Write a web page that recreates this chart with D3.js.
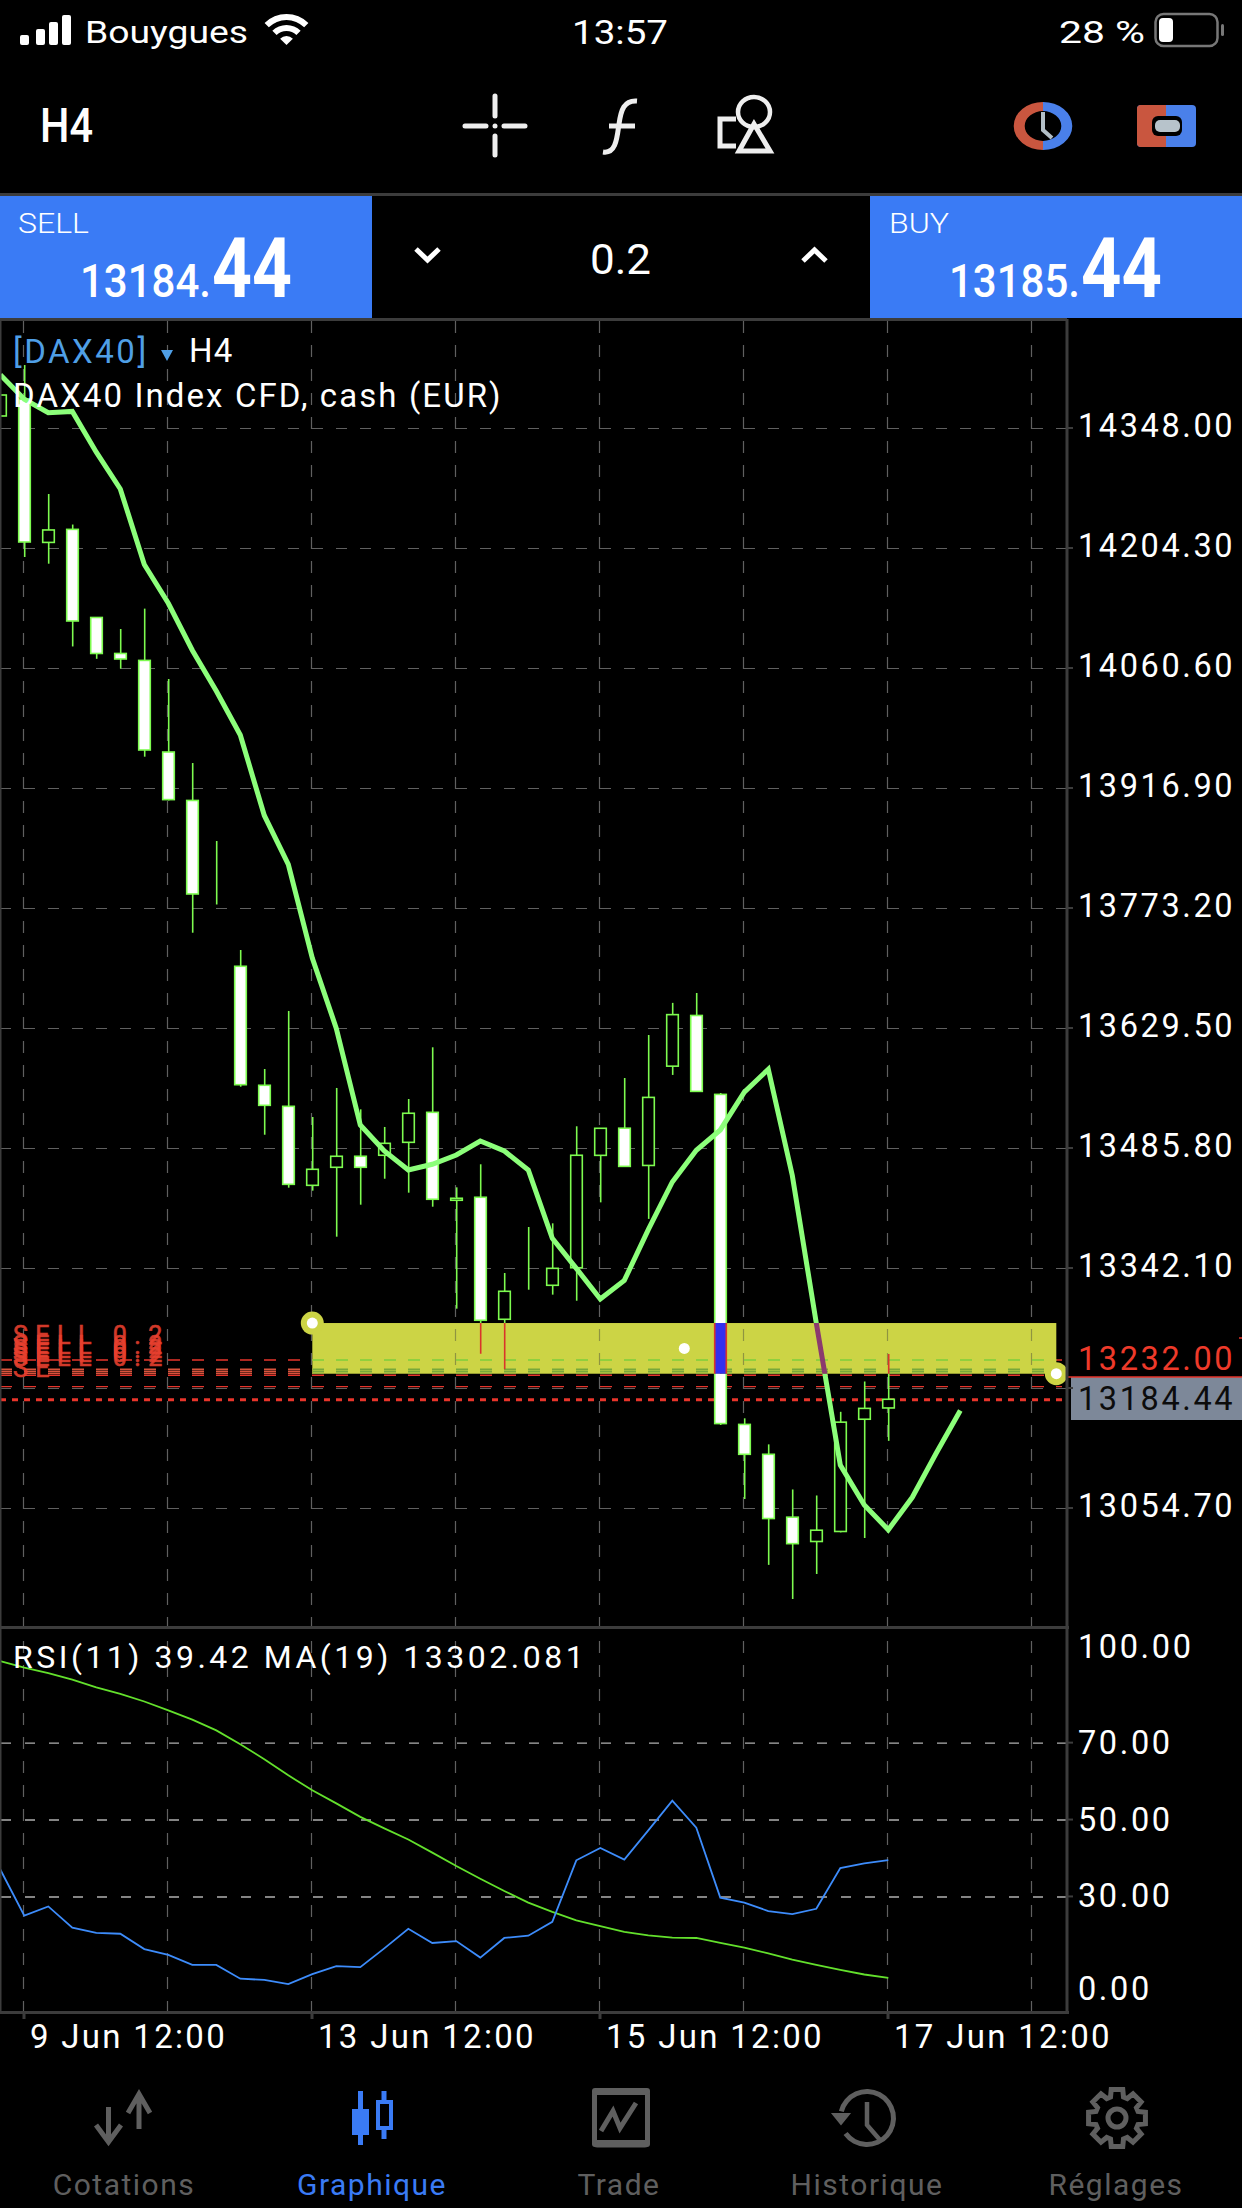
<!DOCTYPE html>
<html>
<head>
<meta charset="utf-8">
<title>DAX40 H4</title>
<script src="https://cdn.jsdelivr.net/npm/d3@7"></script>
<style>
html, body { margin: 0; padding: 0; background: #000; }
svg { display: block; }
text { font-family: Roboto, "Liberation Sans", sans-serif; }
</style>
</head>
<body>
<svg id="chart" width="1242" height="2208"></svg>
<script>
// Candles, oldest first. White bodies are down bars, hollow ones up bars.
var opens = [14362.4, 14382.7, 14211, 14226.6, 14121.1, 14078, 14069.7, 13960, 13902, 13787.2,
    13703.4, 13560.9, 13535.7, 13441.1, 13462.7, 13475.9, 13477.1, 13492.6, 13528.5, 13423.2,
    13426.8, 13280.7, 13321.4, 13321.4, 13342.4, 13477, 13509.5, 13464.9, 13583.8, 13644.5,
    13550, 13154.8, 13119, 13043.7, 13014.6, 13026.6, 13161, 13174.5];
var highs = [14387.5, 14423.4, 14269, 14232.4, 14121.1, 14107.3, 14131.7, 14047.4, 13946.8, 13853.4,
    13722.9, 13580.4, 13649.9, 13522.9, 13557.7, 13532.1, 13511, 13544.5, 13606.4, 13438.7,
    13466.3, 13336.1, 13391.2, 13395.6, 13511.8, 13509.4, 13569.6, 13621.1, 13659.6, 13671.4,
    13551.7, 13162.1, 13130.9, 13076.9, 13069.7, 13169.9, 13206.2, 13239.1];
var lows = [14362.4, 14193.5, 14185.5, 14086.4, 14071.6, 14059.9, 13954.4, 13902, 13743.6, 13777.4,
    13559.2, 13501.7, 13438.3, 13434.7, 13379.6, 13417.9, 13449, 13432.3, 13415.5, 13293.4,
    13239.5, 13220.8, 13316.1, 13310.2, 13302.9, 13420.7, 13463.8, 13400.9, 13573.3, 13553.6,
    13154.2, 13065.5, 12986.6, 12945.7, 12975.7, 13025.5, 13018.8, 13135.1];
var closes = [14387.5, 14211.5, 14225.9, 14116.9, 14078, 14071.4, 13962.4, 13903, 13790, 13787.2,
    13561.6, 13536.9, 13442.3, 13460.3, 13475.9, 13462.7, 13491.4, 13527.4, 13424.4, 13425.6,
    13279.5, 13314.2, 13321.4, 13341.7, 13477.1, 13509.4, 13463.8, 13546.4, 13645.5, 13553.6,
    13155.8, 13119, 13042.1, 13012, 13028.1, 13157.5, 13174, 13184.9];
// Price moving average, shifted three bars into the future
var priceMA = [14411.8, 14382.5, 14366.3, 14367.9, 14319, 14275, 14184.5, 14138.1, 14081.9, 14033.1,
    13980.4, 13884, 13825.3, 13713.3, 13629.1, 13513.3, 13482.2, 13459.5, 13466.3, 13477.4,
    13494.2, 13482.2, 13459.5, 13377.7, 13341.7, 13305, 13327.2, 13388, 13445.1, 13483.1,
    13507.4, 13552.6, 13580.1, 13452.9, 13276.2, 13106.2, 13058.3, 13028.6, 13067.5, 13120.6, 13171.5];
var rsiValues = [37, 25, 27.4, 21.9, 20.5, 20.3, 16.3, 14.8, 12.2, 12.2,
    8.6, 8.3, 7.2, 9.8, 11.9, 11.6, 16.5, 21.6, 17.9, 18.4,
    14.1, 19.2, 19.8, 23.4, 39.4, 42.6, 39.6, 47.2, 54.9, 47.9,
    29.7, 28.4, 26.2, 25.4, 26.8, 37.4, 38.6, 39.42];
var rsiMA = [91.2, 89.5, 88.1, 86.4, 84.4, 82.7, 80.7, 78.4, 76, 73.2,
    69.6, 65.7, 61.5, 57.6, 54.2, 50.7, 47.7, 44.8, 41.4, 37.9,
    34.6, 31.4, 28.4, 26, 23.8, 22.3, 20.8, 19.9, 19.3, 19.2,
    17.9, 16.7, 15.2, 13.6, 12.2, 10.9, 9.7, 8.8];

var priceTicks = [14348, 14204.3, 14060.6, 13916.9, 13773.2, 13629.5, 13485.8, 13342.1, 13198.4, 13054.7];
var rsiTicks = [70, 50, 30];
var rsiLabels = [100, 70, 50, 30, 0];
var gridBars = [1, 7, 13, 19, 25, 31, 37, 43];
var timeBars = [1, 13, 25, 37];
var timeLabels = ['9 Jun 12:00', '13 Jun 12:00', '15 Jun 12:00', '17 Jun 12:00'];
var orderLevels = [13232, 13220.8, 13218.4, 13216, 13213.6, 13200];
var orderTexts = ['SELL 0.2', 'SELL 0.2', 'SELL 0.2', 'SELL 0.2', 'SELL 0.2', 'SE'];
var orderBaselines = [13251, 13239.1, 13234.3, 13229.5, 13225.1, 13212];
var bid = 13184.44;
var band = {x0: 13, x1: 44, top: 13276.2, bottom: 13215.5};

var svg = d3.select('#chart');
var chartRight = 1067;
var chartTop = 319, panelTop = 1627, panelBottom = 2012;
var green = '#7dfb4f', maGreen = '#8cff7a', orderRed = '#e5342b', gridGrey = '#606060';
var labelSize = 32.5, labelSpacing = 2.6;

svg.append('rect').attr('width', 1242).attr('height', 2208).attr('fill', '#000');

var x = d3.scaleLinear().domain([0, 44]).range([0.3, 1056.3]);
var y = d3.scaleLinear().domain([14348, 13054.7]).range([428, 1508]);
var yRsi = d3.scaleLinear().domain([0, 100]).range([2011.8, 1627.3]);

var defs = svg.append('defs');
defs.append('clipPath').attr('id', 'plot').append('rect')
    .attr('x', 0).attr('y', chartTop + 2).attr('width', chartRight).attr('height', panelTop - chartTop - 2);
defs.append('clipPath').attr('id', 'bandClip').append('rect')
    .attr('x', x(band.x0)).attr('y', y(band.top))
    .attr('width', x(band.x1) - x(band.x0)).attr('height', y(band.bottom) - y(band.top));

// Vertical grid runs through both panels
function drawVerticalGrid(g, colour) {
    g.selectAll('.vgrid').data(gridBars).enter().append('line')
        .attr('class', 'vgrid')
        .attr('x1', function(d) { return x(d) - 0.8; })
        .attr('x2', function(d) { return x(d) - 0.8; })
        .attr('y1', chartTop + 2).attr('y2', panelBottom)
        .attr('stroke', colour).attr('stroke-width', 1.2).attr('stroke-dasharray', '12 12');
}
drawVerticalGrid(svg.append('g'), gridGrey);

// Price axis: long ticks are the horizontal grid
var priceAxis = d3.axisRight(y).tickValues(priceTicks).tickSize(-chartRight).tickPadding(11)
    .tickFormat(function(d) { return d === 13198.4 ? '' : d.toFixed(2); });
var priceG = svg.append('g').attr('transform', 'translate(' + chartRight + ',0)').call(priceAxis);
priceG.select('.domain').remove();
priceG.selectAll('line').attr('stroke', gridGrey).attr('stroke-width', 1.2).attr('stroke-dasharray', '11 13');
priceG.selectAll('text').attr('fill', '#fff').attr('font-size', labelSize).attr('dy', '0.27em')
    .attr('letter-spacing', labelSpacing).style('font-family', 'Roboto, sans-serif');

function drawMarks(g, c) {
    // pending order lines sit under the candles
    g.selectAll('.order').data(orderLevels).enter().append('line')
        .attr('class', 'order')
        .attr('x1', 0).attr('x2', 1062)
        .attr('y1', function(d) { return y(d); })
        .attr('y2', function(d) { return y(d); })
        .attr('stroke', function(d, i) { return i >= 1 && i <= 3 ? c.stripe : c.order; })
        .attr('stroke-width', 1.4).attr('stroke-dasharray', '12 12');

    // candles
    var bars = g.selectAll('.bar').data(opens).enter().append('g').attr('class', 'bar');
    bars.append('line')
        .attr('x1', function(d, i) { return x(i) + 0.4; })
        .attr('x2', function(d, i) { return x(i) + 0.4; })
        .attr('y1', function(d, i) { return y(highs[i]); })
        .attr('y2', function(d, i) { return y(lows[i]); })
        .attr('stroke', c.wick).attr('stroke-width', 1.6);
    bars.append('rect')
        .attr('x', function(d, i) { return x(i) - 5.6; })
        .attr('width', 11.6)
        .attr('y', function(d, i) { return y(Math.max(opens[i], closes[i])); })
        .attr('height', function(d, i) { return Math.abs(y(opens[i]) - y(closes[i])); })
        .attr('fill', function(d, i) { return closes[i] < opens[i] ? c.down : '#000'; })
        .attr('stroke', c.edge).attr('stroke-width', 1.6);

    // moving average
    g.append('path')
        .attr('d', d3.line().x(function(d, i) { return x(i); }).y(function(d) { return y(d); })(priceMA))
        .attr('fill', 'none').attr('stroke', c.ma).attr('stroke-width', 5).attr('stroke-linejoin', 'miter');
}

var plot = svg.append('g').attr('clip-path', 'url(#plot)');

// Bid line, also under the candles
plot.append('line').attr('x1', 0).attr('x2', 1062).attr('y1', y(bid)).attr('y2', y(bid))
    .attr('stroke', '#e8352b').attr('stroke-width', 3).attr('stroke-dasharray', '6 6');

drawMarks(plot.append('g'), {wick: green, edge: green, down: '#fff', ma: maGreen, order: orderRed, stripe: '#d9533c'});

// Rectangle object, everything under it shows in inverted colours
var bandFill = '#ccd445';
svg.append('rect')
    .attr('x', x(band.x0)).attr('y', y(band.top))
    .attr('width', x(band.x1) - x(band.x0)).attr('height', y(band.bottom) - y(band.top))
    .attr('fill', bandFill);
var inBand = svg.append('g').attr('clip-path', 'url(#bandClip)');
drawVerticalGrid(inBand, '#8f9440');
drawMarks(inBand.append('g'), {wick: '#d9342b', edge: '#d9342b', down: '#3230ee', ma: '#8b3a6e', order: '#7cce3c', stripe: '#77a83a'});
inBand.selectAll('.bar rect').filter(function(d, i) { return closes[i] >= opens[i]; }).attr('fill', 'none');

var handles = [[band.x0, band.top], [band.x1, band.bottom]];
svg.selectAll('.handle').data(handles).enter().append('circle').attr('class', 'handle')
    .attr('cx', function(d) { return x(d[0]); }).attr('cy', function(d) { return y(d[1]); })
    .attr('r', 11.5).attr('fill', bandFill);
svg.selectAll('.handleDot').data(handles.concat([[(band.x0 + band.x1) / 2, (band.top + band.bottom) / 2]]))
    .enter().append('circle').attr('class', 'handleDot')
    .attr('cx', function(d) { return x(d[0]); }).attr('cy', function(d) { return y(d[1]); })
    .attr('r', 5.5).attr('fill', '#fff');

// Order labels, stacked on top of each other
svg.selectAll('.orderText').data(orderTexts).enter().append('text').attr('class', 'orderText')
    .attr('x', 13).attr('y', function(d, i) { return y(orderBaselines[i]); })
    .attr('font-size', 25).attr('letter-spacing', 7.5)
    .attr('fill', '#e8402f').attr('stroke', '#e8402f').attr('stroke-width', 0.6).attr('opacity', 0.9)
    .text(function(d) { return d; });

// Titles
svg.append('text').attr('x', 13).attr('y', 363).attr('font-size', 33).attr('fill', '#4f9fe6').attr('letter-spacing', 2.5).text('[DAX40]');
svg.append('path').attr('d', 'M161 350 L173 350 L167 361 Z').attr('fill', '#4f9fe6');
svg.append('text').attr('x', 189).attr('y', 362).attr('font-size', 33).attr('fill', '#fff').attr('letter-spacing', 1.2).text('H4');
svg.append('text').attr('x', 13).attr('y', 407).attr('font-size', 33).attr('fill', '#fff').attr('letter-spacing', 2.1).text('DAX40 Index CFD, cash (EUR)');

// Last price and order price on the axis
svg.append('rect').attr('x', 1071).attr('y', 1377).attr('width', 171).attr('height', 43).attr('fill', '#7d8899');
svg.append('line').attr('x1', 1067).attr('x2', 1242).attr('y1', 1377).attr('y2', 1377).attr('stroke', orderRed).attr('stroke-width', 1.5);
svg.append('line').attr('x1', 1239).attr('x2', 1242).attr('y1', 1338).attr('y2', 1338).attr('stroke', orderRed).attr('stroke-width', 1.5);
svg.append('text').attr('x', 1078).attr('y', y(orderLevels[0]) + 10).attr('font-size', labelSize)
    .attr('letter-spacing', labelSpacing).attr('fill', '#ee3a2a').text(orderLevels[0].toFixed(2));
svg.append('text').attr('x', 1078).attr('y', 1410).attr('font-size', labelSize)
    .attr('letter-spacing', labelSpacing).attr('fill', '#0c0c0c').text(bid.toFixed(2));

// RSI panel
var rsiAxis = d3.axisRight(yRsi).tickValues(rsiTicks).tickSize(-chartRight).tickFormat('');
var rsiG = svg.append('g').attr('transform', 'translate(' + chartRight + ',0)').call(rsiAxis);
rsiG.select('.domain').remove();
rsiG.selectAll('line').attr('stroke', '#b0b0b0').attr('stroke-width', 1.4).attr('stroke-dasharray', '10 14');

var rsiLine = d3.line().x(function(d, i) { return x(i); }).y(function(d) { return yRsi(d); });
svg.append('path').attr('d', rsiLine(rsiMA)).attr('fill', 'none').attr('stroke', '#63e02c').attr('stroke-width', 1.8);
svg.append('path').attr('d', rsiLine(rsiValues)).attr('fill', 'none').attr('stroke', '#3d8cfb').attr('stroke-width', 1.8);

svg.selectAll('.rsiLabel').data(rsiLabels).enter().append('text').attr('class', 'rsiLabel')
    .attr('x', 1078)
    .attr('y', function(d) { return yRsi(d) + (d === 100 ? 31 : d === 0 ? -12 : 11); })
    .attr('font-size', labelSize).attr('letter-spacing', labelSpacing).attr('fill', '#fff')
    .text(function(d) { return d.toFixed(2); });
svg.append('text').attr('x', 13).attr('y', 1668).attr('font-size', 32)
    .attr('letter-spacing', 3.5).attr('fill', '#fff').text('RSI(11) 39.42 MA(19) 13302.081');

// Frame lines
var frame = '#3c3c3c';
svg.append('rect').attr('x', 0).attr('y', 193).attr('width', 1242).attr('height', 3).attr('fill', frame);
svg.append('rect').attr('x', 0).attr('y', chartTop - 1).attr('width', chartRight).attr('height', 3).attr('fill', frame);
svg.append('rect').attr('x', 0).attr('y', panelTop - 1).attr('width', chartRight + 2).attr('height', 3).attr('fill', frame);
svg.append('rect').attr('x', 0).attr('y', panelBottom - 1).attr('width', chartRight + 2).attr('height', 3).attr('fill', frame);
svg.append('rect').attr('x', 0).attr('y', chartTop).attr('width', 1.5).attr('height', panelBottom - chartTop).attr('fill', frame);
svg.append('rect').attr('x', chartRight - 1.5).attr('y', chartTop).attr('width', 3).attr('height', panelBottom - chartTop + 1).attr('fill', frame);

// Short solid ticks on the value axes
svg.selectAll('.yTick').data(priceTicks.map(y).concat(rsiTicks.map(yRsi))).enter().append('line').attr('class', 'yTick')
    .attr('x1', chartRight).attr('x2', chartRight + 6)
    .attr('y1', function(d) { return d; }).attr('y2', function(d) { return d; })
    .attr('stroke', frame).attr('stroke-width', 2);

// Time axis
var timeAxis = d3.axisBottom(d3.scaleLinear().domain(x.domain()).range([x(0) - 0.8, x(44) - 0.8]))
    .tickValues(timeBars).tickSize(7).tickPadding(0)
    .tickFormat(function(d, i) { return timeLabels[i]; });
var timeG = svg.append('g').attr('transform', 'translate(0,' + panelBottom + ')').call(timeAxis);
timeG.select('.domain').remove();
timeG.selectAll('line').attr('stroke', frame).attr('stroke-width', 3);
timeG.selectAll('text').attr('text-anchor', 'start').attr('dx', 6).attr('y', 36).attr('dy', 0)
    .attr('fill', '#fff').attr('font-size', 33).attr('letter-spacing', 2.3)
    .style('font-family', 'Roboto, sans-serif');

// ---- phone and app chrome ----
var ui = svg.append('g');

function label(txt, px, py, size, attrs) {
    var t = ui.append('text').attr('x', px).attr('y', py).attr('font-size', size).attr('fill', '#fff').text(txt);
    Object.keys(attrs || {}).forEach(function(k) { t.attr(k, attrs[k]); });
    return t;
}
function icon(d, colour, width) {
    return ui.append('path').attr('d', d).attr('fill', 'none').attr('stroke', colour).attr('stroke-width', width || 5);
}

// Status bar
[[20, 35], [36, 29], [49, 22], [62, 15]].forEach(function(b) {
    ui.append('rect').attr('x', b[0]).attr('y', b[1]).attr('width', 9).attr('height', 45 - b[1]).attr('rx', 2).attr('fill', '#fff');
});
label('Bouygues', 85, 43, 31, {textLength: 163, lengthAdjust: 'spacingAndGlyphs'});
[[0, 9], [14, 20], [25, 31]].forEach(function(r) {
    ui.append('path').attr('transform', 'translate(286.5,45)')
        .attr('d', d3.arc().innerRadius(r[0]).outerRadius(r[1]).startAngle(-Math.PI / 4).endAngle(Math.PI / 4)())
        .attr('fill', '#fff');
});
label('13:57', 572, 44, 34, {textLength: 96, lengthAdjust: 'spacingAndGlyphs'});
label('28 %', 1059, 43, 32, {textLength: 86, lengthAdjust: 'spacingAndGlyphs'});
ui.append('rect').attr('x', 1155.5).attr('y', 14).attr('width', 62).attr('height', 32).attr('rx', 8)
    .attr('fill', 'none').attr('stroke', '#777').attr('stroke-width', 2.5);
ui.append('rect').attr('x', 1159).attr('y', 18).attr('width', 14).attr('height', 24).attr('rx', 4).attr('fill', '#fff');
ui.append('rect').attr('x', 1221).attr('y', 24).attr('width', 3).attr('height', 12).attr('rx', 1.5).attr('fill', '#777');

// Toolbar
label('H4', 40, 142, 49, {'font-weight': 500, textLength: 53, lengthAdjust: 'spacingAndGlyphs'});
icon('M495 96V116M495 136V155M465 126H486M504 126H525', '#eee', 5).attr('stroke-linecap', 'round');
ui.append('circle').attr('cx', 495).attr('cy', 126).attr('r', 2.5).attr('fill', '#eee');
icon('M603 152C616 154 617 138 619 124C621 110 624 100 637 101M609 126H635', '#eee', 5);
ui.append('ellipse').attr('cx', 754).attr('cy', 112).attr('rx', 16).attr('ry', 15)
    .attr('fill', 'none').attr('stroke', '#eee').attr('stroke-width', 4.5);
icon('M754 124L739 151H770Z', '#eee', 5);
icon('M736 119H720V146H736', '#eee', 5);

var clock = ui.append('g').attr('transform', 'translate(1043,126) scale(1.22,1)');
clock.append('path').attr('d', d3.arc().innerRadius(15).outerRadius(24).startAngle(0).endAngle(Math.PI)()).attr('fill', '#4a80ea');
clock.append('path').attr('d', d3.arc().innerRadius(15).outerRadius(24).startAngle(Math.PI).endAngle(2 * Math.PI)()).attr('fill', '#c9563f');
icon('M1043 112V130L1052 138', '#b3bfc7', 4);
ui.append('rect').attr('x', 1137).attr('y', 105).attr('width', 59).attr('height', 42).attr('rx', 4).attr('fill', '#4a80ea');
ui.append('path').attr('d', 'M1166 105H1141Q1137 105 1137 109V143Q1137 147 1141 147H1166Z').attr('fill', '#c9563f');
ui.append('rect').attr('x', 1152).attr('y', 116).attr('width', 30).attr('height', 20).attr('rx', 6).attr('fill', '#000');
ui.append('rect').attr('x', 1155).attr('y', 120).attr('width', 25).attr('height', 12).attr('rx', 5).attr('fill', '#b7c3cb');

// Sell / volume / buy row
var blue = '#3a7bf5';
ui.append('rect').attr('x', 0).attr('y', 196).attr('width', 372).attr('height', 122).attr('fill', blue);
ui.append('rect').attr('x', 870).attr('y', 196).attr('width', 372).attr('height', 122).attr('fill', blue);
label('SELL', 18, 233, 28, {textLength: 71, lengthAdjust: 'spacingAndGlyphs', 'font-weight': 300});
label('13184.', 80, 297, 46, {textLength: 131, lengthAdjust: 'spacingAndGlyphs', 'font-weight': 500});
label('44', 212, 297, 84, {textLength: 80, lengthAdjust: 'spacingAndGlyphs', 'font-weight': 700});
label('BUY', 889, 233, 28, {textLength: 60, lengthAdjust: 'spacingAndGlyphs', 'font-weight': 300});
label('13185.', 949, 297, 46, {textLength: 131, lengthAdjust: 'spacingAndGlyphs', 'font-weight': 500});
label('44', 1081, 297, 84, {textLength: 81, lengthAdjust: 'spacingAndGlyphs', 'font-weight': 700});
label('0.2', 590, 274, 43, {textLength: 61, lengthAdjust: 'spacingAndGlyphs'});
icon('M416 249L427.5 260L439 249', '#fff', 5);
icon('M803 261L814.5 250L826 261', '#fff', 5);

// Tab bar
var tabGrey = '#5f5f5f', tabBlue = '#3a7bf5';
var tabs = [['Cotations', 124], ['Graphique', 372], ['Trade', 619], ['Historique', 867], ['Réglages', 1116]];
tabs.forEach(function(t, i) {
    label(t[0], t[1], 2195, 30, {'text-anchor': 'middle', fill: i === 1 ? tabBlue : tabGrey, 'letter-spacing': 1.5});
});
icon('M139 2129V2096M128 2113L139 2094L150 2113', tabGrey, 5);
icon('M108.5 2107V2140M96 2125L108.5 2142L121 2125', tabGrey, 5);
ui.append('rect').attr('x', 358).attr('y', 2091).attr('width', 5).attr('height', 54).attr('fill', tabBlue);
ui.append('rect').attr('x', 352).attr('y', 2109).attr('width', 17).attr('height', 26).attr('fill', tabBlue);
ui.append('rect').attr('x', 381.5).attr('y', 2091).attr('width', 5).attr('height', 48).attr('fill', tabBlue);
ui.append('rect').attr('x', 378).attr('y', 2102).attr('width', 13).attr('height', 26).attr('fill', '#000').attr('stroke', tabBlue).attr('stroke-width', 4);
ui.append('rect').attr('x', 594.5).attr('y', 2091).attr('width', 53).attr('height', 54).attr('rx', 3).attr('fill', 'none').attr('stroke', tabGrey).attr('stroke-width', 5);
ui.append('rect').attr('x', 592).attr('y', 2088).attr('width', 58).attr('height', 7).attr('rx', 3).attr('fill', tabGrey);
ui.append('rect').attr('x', 592).attr('y', 2140).attr('width', 58).attr('height', 7).attr('rx', 3).attr('fill', tabGrey);
icon('M601 2131L613 2111L620 2128L636 2103', tabGrey, 5);
ui.append('path').attr('transform', 'translate(867,2118)')
    .attr('d', d3.arc().innerRadius(24).outerRadius(29).startAngle(-Math.PI * 0.42).endAngle(Math.PI * 1.3)())
    .attr('fill', tabGrey);
ui.append('path').attr('d', 'M833 2114L849 2114L841 2124Z').attr('fill', tabGrey).attr('stroke', tabGrey).attr('stroke-width', 2);
icon('M867 2102V2125L880 2140', tabGrey, 4.5);
// gear outline from eight teeth
var gearPts = [];
d3.range(8).forEach(function(k) {
    var a = k * Math.PI / 4;
    gearPts.push([a - 0.2, 29], [a + 0.2, 29], [a + 0.3, 22], [a + Math.PI / 4 - 0.3, 22]);
});
icon(d3.lineRadial().curve(d3.curveLinearClosed)(gearPts), tabGrey, 5).attr('transform', 'translate(1117,2118)');
ui.append('circle').attr('cx', 1117).attr('cy', 2118).attr('r', 9).attr('fill', 'none').attr('stroke', tabGrey).attr('stroke-width', 5);
</script>
</body>
</html>
